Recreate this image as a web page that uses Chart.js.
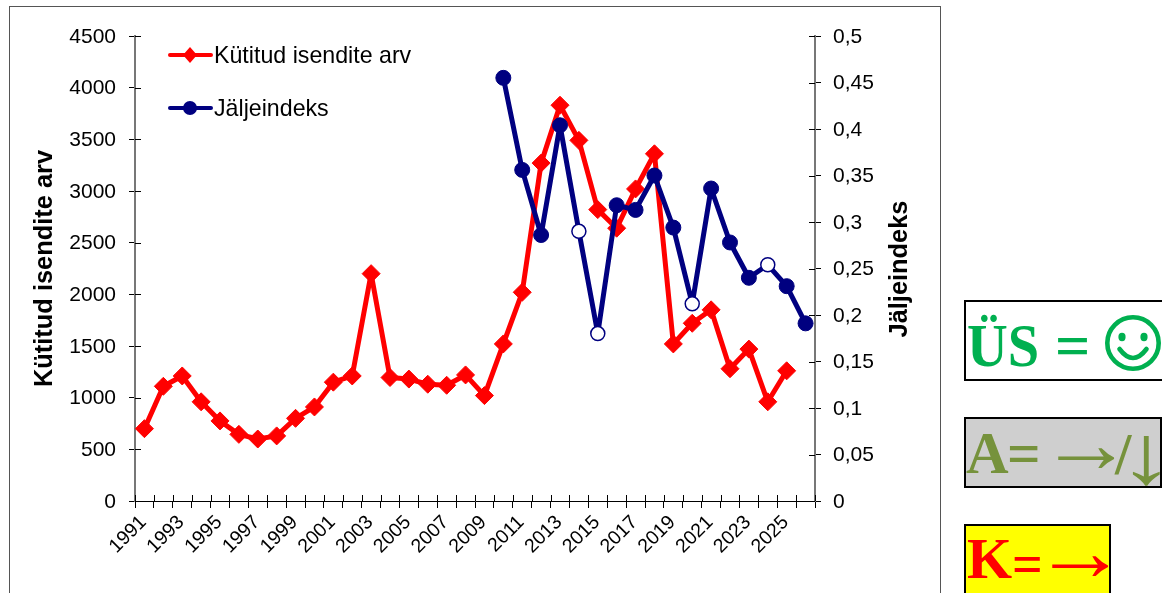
<!DOCTYPE html>
<html>
<head>
<meta charset="utf-8">
<script src="https://cdn.jsdelivr.net/npm/chart.js@4"></script>
<style>
html, body { margin: 0; padding: 0; background: #fff; overflow: hidden; }
#stage { position: relative; width: 1162px; height: 593px; overflow: hidden; }
#frame { position: absolute; left: 9px; top: 6px; width: 930px; height: 600px; border: 1px solid #555; }
#chart { position: absolute; left: 0; top: 0; }
.box { position: absolute; box-sizing: border-box; border: 2px solid #000; }
#us { left: 964px; top: 300px; width: 200px; height: 81px; background: #fff; }
#a { left: 964px; top: 417px; width: 198px; height: 71px; background: #cfcfcf; }
#k { left: 964px; top: 524px; width: 147px; height: 80px; background: #ffff00; }
.t { position: absolute; font-family: "Liberation Serif", serif; font-weight: bold; line-height: 1; white-space: nowrap; transform-origin: left top; }
.nool { font-weight: normal; }
.roh { color: #00b050; }
.oli { color: #76923c; }
.pun { color: #ff0000; }
#naerunagu { position: absolute; left: 1105px; top: 315px; }
</style>
</head>
<body>
<div id="stage">
    <div id="frame"></div>
    <canvas id="chart" width="1162" height="593"></canvas>
    <div class="box" id="us"></div>
    <div class="box" id="a"></div>
    <div class="box" id="k"></div>

    <span class="t roh" style="left:967px;top:314px;font-size:62px;transform:scaleX(.91)">ÜS</span>
    <span class="t roh" style="left:1055px;top:314px;font-size:62px">=</span>
    <svg id="naerunagu" width="56" height="56" viewBox="0 0 56 56">
        <circle cx="28" cy="28" r="25.7" fill="none" stroke="#00b050" stroke-width="4.6"/>
        <ellipse cx="17" cy="22" rx="3.6" ry="4.2" fill="#00b050"/>
        <ellipse cx="39" cy="22" rx="3.6" ry="4.2" fill="#00b050"/>
        <path d="M14.5 34 Q28 52 41.5 34" fill="none" stroke="#00b050" stroke-width="4.6" stroke-linecap="round"/>
    </svg>

    <span class="t oli" style="left:966px;top:424px;font-size:59px">A</span>
    <span class="t oli" style="left:1007px;top:424px;font-size:59px">=</span>
    <span class="t oli nool" style="left:1039px;top:402px;font-size:60px;transform:scale(1.57,1.4)">→</span>
    <span class="t oli" style="left:1115px;top:425px;font-size:59px">/</span>
    <span class="t oli nool" style="left:1118px;top:413px;font-size:60px;transform:scale(1.9,1.4)">↓</span>

    <span class="t pun" style="left:967px;top:530px;font-size:58px">K</span>
    <span class="t pun" style="left:1012px;top:537px;font-size:54px">=</span>
    <span class="t pun nool" style="left:1033px;top:510px;font-size:60px;transform:scale(1.57,1.4)">→</span>
</div>
<script>
const aastad = [1991, 1992, 1993, 1994, 1995, 1996, 1997, 1998, 1999, 2000, 2001, 2002,
    2003, 2004, 2005, 2006, 2007, 2008, 2009, 2010, 2011, 2012, 2013, 2014,
    2015, 2016, 2017, 2018, 2019, 2020, 2021, 2022, 2023, 2024, 2025, 2026];

const kytitud = [700, 1110, 1210, 960, 775, 645, 600, 630, 800, 910, 1150, 1210,
    2200, 1195, 1180, 1130, 1120, 1220, 1020, 1520, 2020, 3270, 3830, 3490,
    2820, 2640, 3020, 3360, 1520, 1720, 1850, 1280, 1470, 960, 1260, null];

const jaljeindeks = [null, null, null, null, null, null, null, null, null, null, null, null,
    null, null, null, null, null, null, null, 0.455, 0.356, 0.286, 0.404, 0.29,
    0.18, 0.318, 0.313, 0.35, 0.294, 0.212, 0.336, 0.278, 0.24, 0.254, 0.231, 0.191];

// these years have an open marker in the original
const lahtised = [2014, 2015, 2020, 2024];

const PUNANE = '#ff0000';
const SININE = '#000080';
const FONT = '"Liberation Sans", Arial, sans-serif';

// ticks cross the axis in the original, chart.js only draws the outer half
const sisemisedMargid = {
    id: 'sisemisedMargid',
    beforeDatasetsDraw(chart) {
        const c = chart.ctx;
        const { x, y, y1 } = chart.scales;
        const pikkus = 6;
        c.save();
        c.strokeStyle = '#000';
        c.lineWidth = 1;
        c.beginPath();
        y.ticks.forEach(function(t) {
            const p = Math.round(y.getPixelForValue(t.value)) + 0.5;
            c.moveTo(x.left, p);
            c.lineTo(x.left + pikkus, p);
        });
        y1.ticks.forEach(function(t) {
            const p = Math.round(y1.getPixelForValue(t.value)) + 0.5;
            c.moveTo(x.right - pikkus, p);
            c.lineTo(x.right, p);
        });
        const samm = x.width / aastad.length;
        for (let i = 0; i <= aastad.length; i++) {
            const p = Math.round(x.left + i * samm) + 0.5;
            c.moveTo(p, y.bottom - pikkus);
            c.lineTo(p, y.bottom);
        }
        c.stroke();
        c.restore();
    }
};

// right title reads bottom to top, chart.js would turn it the other way
const paremPealkiri = {
    id: 'paremPealkiri',
    afterDraw(chart) {
        const c = chart.ctx;
        c.save();
        c.translate(900, 269);
        c.rotate(-Math.PI / 2);
        c.fillStyle = '#000';
        c.font = 'bold 25.4px ' + FONT;
        c.textAlign = 'center';
        c.textBaseline = 'middle';
        c.fillText('Jäljeindeks', 0, 0);
        c.restore();
    }
};

// legend sits inside the plot area with a line through the marker
const legend = {
    id: 'legendSees',
    afterDraw(chart) {
        const c = chart.ctx;
        const read = [
            { tekst: 'Kütitud isendite arv', rida: 55, datasetIndex: 0 },
            { tekst: 'Jäljeindeks', rida: 108, datasetIndex: 1 }
        ];
        c.save();
        read.forEach(function(r) {
            const ds = chart.data.datasets[r.datasetIndex];
            c.strokeStyle = ds.borderColor;
            c.lineWidth = 4;
            c.lineCap = 'round';
            c.beginPath();
            c.moveTo(170, r.rida);
            c.lineTo(211, r.rida);
            c.stroke();
            c.fillStyle = ds.borderColor;
            c.beginPath();
            if (ds.pointStyle === 'circle') {
                c.arc(190, r.rida, 7, 0, Math.PI * 2);
            } else {
                c.moveTo(190, r.rida - 8);
                c.lineTo(197, r.rida);
                c.lineTo(190, r.rida + 8);
                c.lineTo(183, r.rida);
                c.closePath();
            }
            c.fill();
            c.fillStyle = '#000';
            c.font = '23.2px ' + FONT;
            c.textBaseline = 'middle';
            c.textAlign = 'left';
            c.fillText(r.tekst, 214, r.rida + 1.5);
        });
        c.restore();
    }
};

const ctx = document.getElementById('chart').getContext('2d');
new Chart(ctx, {
    type: 'line',
    data: {
        labels: aastad,
        datasets: [
            {
                label: 'Kütitud isendite arv',
                data: kytitud,
                yAxisID: 'y',
                order: 2,
                borderColor: PUNANE,
                backgroundColor: PUNANE,
                borderWidth: 5,
                borderJoinStyle: 'round',
                tension: 0,
                pointStyle: 'rectRot',
                pointRadius: 9,
                pointBackgroundColor: PUNANE,
                pointBorderColor: PUNANE,
                pointBorderWidth: 1
            },
            {
                label: 'Jäljeindeks',
                data: jaljeindeks,
                yAxisID: 'y1',
                order: 1,
                borderColor: SININE,
                backgroundColor: SININE,
                borderWidth: 5,
                borderJoinStyle: 'round',
                tension: 0,
                pointStyle: 'circle',
                pointRadius: aastad.map(a => lahtised.includes(a) ? 7 : 7.5),
                pointBackgroundColor: aastad.map(a => lahtised.includes(a) ? '#fff' : SININE),
                pointBorderColor: SININE,
                pointBorderWidth: aastad.map(a => lahtised.includes(a) ? 1.5 : 1)
            }
        ]
    },
    options: {
        responsive: false,
        animation: false,
        layout: { padding: { left: 30, right: 250, top: 36, bottom: 0 } },
        plugins: {
            legend: { display: false },
            tooltip: { enabled: false }
        },
        scales: {
            x: {
                offset: true,
                grid: { offset: true, drawOnChartArea: false, tickLength: 7, tickColor: '#000' },
                border: { color: '#000', width: 1 },
                ticks: {
                    autoSkip: false,
                    minRotation: 45,
                    maxRotation: 45,
                    padding: 3,
                    labelOffset: -1,
                    color: '#000',
                    font: { family: FONT, size: 19.5 },
                    callback: function(v, i) { return i % 2 === 0 ? aastad[i] : ''; }
                },
                afterFit: function(s) { s.height = 92; }
            },
            y: {
                position: 'left',
                min: 0,
                max: 4500,
                grid: { drawOnChartArea: false, tickLength: 6, tickColor: '#000' },
                border: { color: '#777', width: 2 },
                ticks: {
                    stepSize: 500,
                    padding: 13,
                    labelOffset: 1,
                    color: '#000',
                    font: { family: FONT, size: 21 },
                    callback: function(v) { return String(v); }
                },
                title: {
                    display: true,
                    text: 'Kütitud isendite arv',
                    color: '#000',
                    padding: 0,
                    font: { family: FONT, size: 25.4, weight: 'bold' }
                },
                afterFit: function(s) { s.width = 105; }
            },
            y1: {
                position: 'right',
                min: 0,
                max: 0.5,
                grid: { drawOnChartArea: false, tickLength: 6, tickColor: '#000' },
                border: { color: '#777', width: 2 },
                ticks: {
                    stepSize: 0.05,
                    padding: 12,
                    labelOffset: 1,
                    color: '#000',
                    font: { family: FONT, size: 21 },
                    callback: function(v) { return String(Number(v.toFixed(2))).replace('.', ','); }
                },
                afterFit: function(s) { s.width = 97; }
            }
        }
    },
    plugins: [sisemisedMargid, paremPealkiri, legend]
});
</script>
</body>
</html>
